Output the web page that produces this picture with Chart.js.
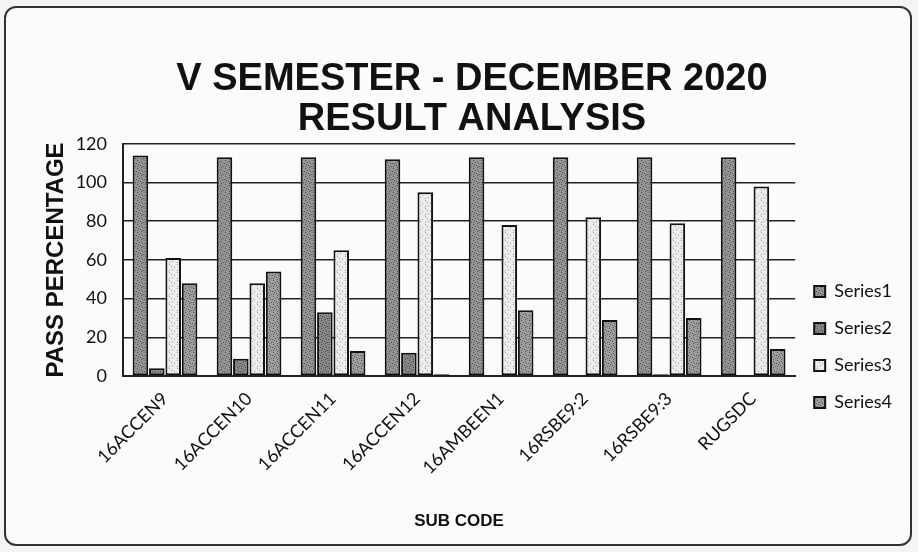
<!DOCTYPE html>
<html>
<head>
<meta charset="utf-8">
<script src="https://cdn.jsdelivr.net/npm/chart.js@4/dist/chart.umd.min.js"></script>
<style>
  html, body { margin: 0; padding: 0; background: #f4f4f2; }
  #frame {
    position: absolute; left: 4px; top: 6px; width: 908px; height: 540px;
    border: 2px solid #333; border-radius: 12px; background: #fbfbfa; box-sizing: border-box;
  }
  #wrap { position: absolute; left: 0; top: 0; width: 918px; height: 552px; }
</style>
</head>
<body>
<div id="frame"></div>
<div id="wrap"><canvas id="chart" width="918" height="552"></canvas></div>
<script>
const subCodes = ['16ACCEN9', '16ACCEN10', '16ACCEN11', '16ACCEN12', '16AMBEEN1', '16RSBE9:2', '16RSBE9:3', 'RUGSDC'];
const series1 = [114, 113, 113, 112, 113, 113, 113, 113];
const series2 = [4, 9, 33, 12, 0, 0, 1, 0];
const series3 = [61, 48, 65, 95, 78, 82, 79, 98];
const series4 = [48, 54, 13, 1, 34, 29, 30, 14];
const yTicks = [0, 20, 40, 60, 80, 100, 120];

const ctx = document.getElementById('chart').getContext('2d');

// speckled fill like the printed chart (fixed dot layout, 8x8 tile)
const dots = [[1,0],[5,1],[3,2],[0,3],[6,3],[2,4],[4,5],[7,6],[1,6],[5,7]];
function speckle(base, dot, every) {
    const c = document.createElement('canvas');
    c.width = 8; c.height = 8;
    const g = c.getContext('2d');
    g.fillStyle = base;
    g.fillRect(0, 0, 8, 8);
    g.fillStyle = dot;
    dots.forEach((d, i) => { if (i % every === 0) g.fillRect(d[0], d[1], 1, 1); });
    return ctx.createPattern(c, 'repeat');
}

function ds(label, data, fill) {
    return {
        label: label,
        data: data,
        backgroundColor: fill,
        borderColor: '#111',
        borderWidth: 2,
        borderSkipped: false,
        barPercentage: 0.95,
        categoryPercentage: 0.78
    };
}

const tickFont = "Lato, 'Open Sans', sans-serif";

new Chart(ctx, {
    type: 'bar',
    data: {
        labels: subCodes,
        datasets: [
            ds('Series1', series1, speckle('#959595', '#505050', 1)),
            ds('Series2', series2, speckle('#888888', '#444', 1)),
            ds('Series3', series3, speckle('#ececea', '#9a9a9a', 2)),
            ds('Series4', series4, speckle('#9e9e9e', '#555', 1))
        ]
    },
    options: {
        responsive: false,
        animation: false,
        layout: { padding: { left: 42, right: 16, top: 60, bottom: 16 } },
        plugins: {
            title: {
                display: true,
                text: ['V SEMESTER - DECEMBER 2020', 'RESULT ANALYSIS'],
                color: '#111',
                font: { family: 'Liberation Sans', size: 38, weight: 'bold', lineHeight: 1.05 },
                padding: { top: 0, bottom: 4 }
            },
            legend: {
                position: 'right',
                align: 'start',
                title: { display: true, text: ' ', padding: { top: 189, bottom: 0 } },
                labels: {
                    color: '#111',
                    font: { family: tickFont, size: 18 },
                    boxWidth: 11,
                    boxHeight: 11,
                    padding: 19
                }
            },
            tooltip: { enabled: false }
        },
        scales: {
            x: {
                grid: { display: false },
                border: { color: '#222', width: 2 },
                ticks: {
                    color: '#111',
                    font: { family: tickFont, size: 18 },
                    maxRotation: 45,
                    minRotation: 45,
                    padding: 4
                },
                title: {
                    display: true,
                    text: 'SUB CODE',
                    color: '#111',
                    font: { family: 'Liberation Sans', size: 17, weight: 'bold' },
                    padding: { top: 29 }
                }
            },
            y: {
                min: 0,
                max: 120,
                afterBuildTicks: axis => { axis.ticks = yTicks.map(v => ({ value: v })); },
                afterFit: axis => { axis.width = 81; },
                grid: { color: '#222', lineWidth: 1.5, drawTicks: false },
                border: { color: '#222', width: 2 },
                ticks: {
                    color: '#111',
                    font: { family: tickFont, size: 18 },
                    padding: 16
                },
                title: {
                    display: true,
                    text: 'PASS PERCENTAGE',
                    color: '#111',
                    font: { family: 'Liberation Sans', size: 24, weight: 'bold' },
                    padding: { top: 0, bottom: 0 }
                }
            }
        }
    }
});
</script>
</body>
</html>
